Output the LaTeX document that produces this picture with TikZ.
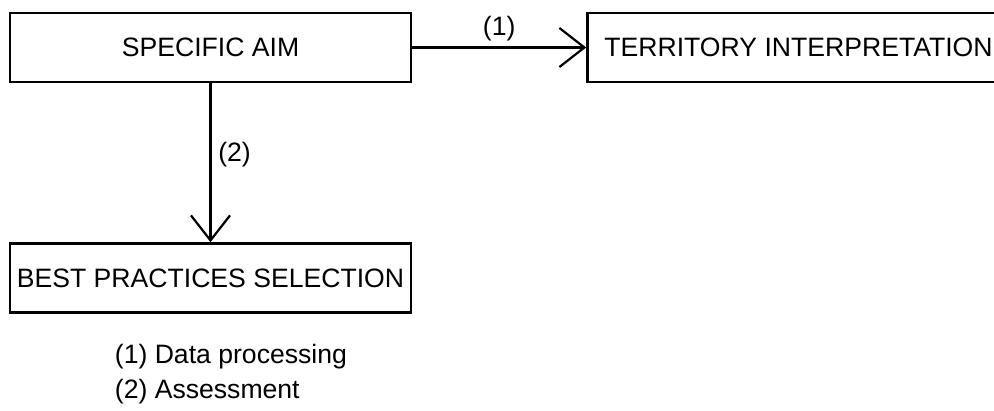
\documentclass[tikz,border=0pt]{standalone}
\usepackage{fontspec}
\setmainfont{Liberation Sans}
\usetikzlibrary{arrows.meta}
\usetikzlibrary{positioning}
\tikzstyle{block} = [draw, rectangle, line width=1.2pt, minimum width=200.5pt, minimum height=34.5pt, inner sep=0pt]
\tikzstyle{wideblock} = [draw, rectangle, line width=1.2pt, minimum height=34.5pt, inner xsep=8.5pt, inner ysep=0pt]
\tikzstyle{legend} = [align=left, inner sep=0pt, font=\fontsize{13.3pt}{17.5pt}\selectfont]

\begin{document}
\begin{tikzpicture}[auto, x=0.5pt, y=-0.5pt, >={Straight Barb[length=12.5pt,width=19.5pt]}, line width=1.1pt, font=\fontsize{13.3pt}{16pt}\selectfont]
    \useasboundingbox (0,0) rectangle (994,411);
    % Placing the blocks
    \node [block] (aim) at (210.5,47.5) {SPECIFIC AIM};
    \node [wideblock, right=87pt of aim] (territory) {TERRITORY INTERPRETATION};
    \node [block, below=79.5pt of aim] (practices) {BEST PRACTICES SELECTION};
    \node [legend, below right=15pt and 52.5pt of practices.south west] (legend) {(1) Data processing\\(2) Assessment};

    % Connecting the nodes
    \draw [->] (aim) -- node [above, inner sep=2.5pt] {(1)} (territory);
    \draw [->] (aim) -- node [right, pos=0.45] {(2)} (practices);
\end{tikzpicture}
\end{document}
